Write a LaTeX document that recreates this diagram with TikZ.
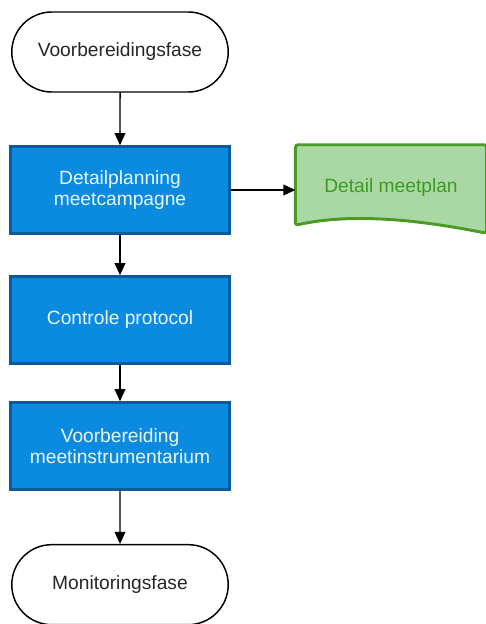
\documentclass[tikz,border=0pt]{standalone}
\usepackage{fontspec}
\setmainfont{Liberation Sans}
\usetikzlibrary{positioning,shapes.misc,arrows.meta}
\definecolor{procfill}{HTML}{0A8BE0}
\definecolor{procline}{HTML}{0B5A9E}
\definecolor{docfill}{HTML}{A9D8A4}
\definecolor{docline}{HTML}{4A9A24}
\definecolor{doctext}{HTML}{3F9A22}
\tikzstyle{terminal}=[rounded rectangle, draw, line width=1.1pt, fill=white, minimum width=169pt, minimum height=60pt, text=black!85]
\tikzstyle{process}=[rectangle, draw=procline, line width=2.2pt, fill=procfill, minimum width=164pt, minimum height=65pt, text=white!92!procfill, align=center]
\tikzstyle{flow}=[-{Triangle[length=9pt,width=8pt]}, line width=1.1pt]

\begin{document}
\begin{tikzpicture}[x=0.75pt, y=-0.75pt, node distance=2cm, on grid,
  every node/.style={font=\fontsize{14.4}{15.5}\selectfont}]
	\useasboundingbox (0,0) rectangle (485,624);
	\node[terminal] (start) at (120,52) {Voorbereidingsfase};
	\node[process, below=103.5pt of start] (plan) {Detailplanning\\meetcampagne};
	\node[process, below=97.5pt of plan] (prot) {Controle protocol};
	\node[process, below=94.5pt of prot] (instr) {Voorbereiding\\meetinstrumentarium};
	\node[terminal, below=104pt of instr] (stop) {Monitoringsfase};
	% document shape
	\node[minimum width=143pt, minimum height=60pt] (docbox) at (391,185) {};
	\draw[draw=docline, fill=docfill, line width=2.2pt, rounded corners=2pt]
	(docbox.south west) -- (docbox.north west) -- (docbox.north east) -- ([yshift=-6pt]docbox.south east)
	.. controls ([xshift=-55pt, yshift=5pt]docbox.south east) and ([xshift=40pt, yshift=9pt]docbox.south west) .. cycle;
	\node[text=doctext] (doc) at ([yshift=-2pt]docbox) {Detail meetplan};
	\path[flow]
	(start) edge (plan)
	(plan) edge (prot)
	(prot) edge (instr)
	(instr) edge (stop)
	(plan.east) edge (plan.east -| docbox.west);
\end{tikzpicture}
\end{document}
